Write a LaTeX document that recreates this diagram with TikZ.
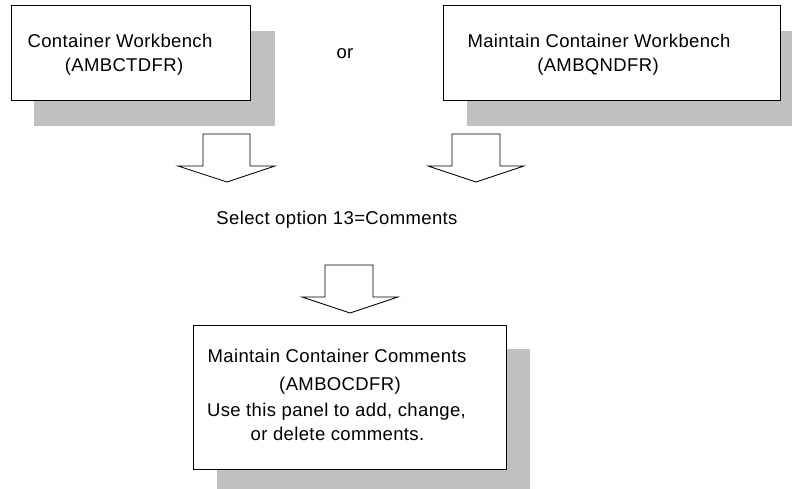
\documentclass[tikz,border=0pt]{standalone}
\usepackage{fontspec}
\setmainfont[LetterSpace=2]{Liberation Sans}
\definecolor{shadowgray}{HTML}{C0C0C0}
\tikzset{
  shadowbox/.style={fill=shadowgray, draw=none},
  panelbox/.style={fill=white, draw=black, line width=1pt},
  blockarrow/.style={fill=white, draw=black, line width=0.8pt, line join=miter},
  txt/.style={inner sep=0pt, anchor=base, font=\fontsize{18.5}{22}\selectfont}
}
\begin{document}
\begin{tikzpicture}[x=1pt, y=-1pt]
\useasboundingbox (0,0) rectangle (792,489);
% box 1
\fill[shadowbox] (34,31) rectangle (275,126);
\draw[panelbox] (11,6) rectangle (250,101);
\node[txt] (b1a) at (120,47.7) {Container Workbench};
\node[txt] (b1b) at (124,71.7) {(AMBCTDFR)};
% or
\node[txt] (or) at (345,59) {or};
% box 2
\fill[shadowbox] (467,31) rectangle (792,126);
\draw[panelbox] (443,6) rectangle (780,101);
\node[txt] (b2a) at (599,47.7) {Maintain Container Workbench};
\node[txt] (b2b) at (598,71.7) {(AMBQNDFR)};
% arrows
\draw[blockarrow] (203,134) -- (250,134) -- (250,166) -- (275,166) -- (227,182) -- (178,166) -- (203,166) -- cycle;
\draw[blockarrow] (452,134) -- (500,134) -- (500,166) -- (524,166) -- (476,182) -- (428,166) -- (452,166) -- cycle;
\node[txt] (sel) at (337,225) {Select option 13=Comments};
\draw[blockarrow] (325,265) -- (373,265) -- (373,297) -- (398,297) -- (350,313) -- (302,297) -- (325,297) -- cycle;
% box 3
\fill[shadowbox] (217,349) rectangle (530,489);
\draw[panelbox] (193,325) rectangle (506,469);
\node[txt] (b3a) at (337,362.7) {Maintain Container Comments};
\node[txt] (b3b) at (340,390) {(AMBOCDFR)};
\node[txt] (b3c) at (336.5,416) {Use this panel to add, change,};
\node[txt] (b3d) at (337.5,440) {or delete comments.};
\end{tikzpicture}
\end{document}
